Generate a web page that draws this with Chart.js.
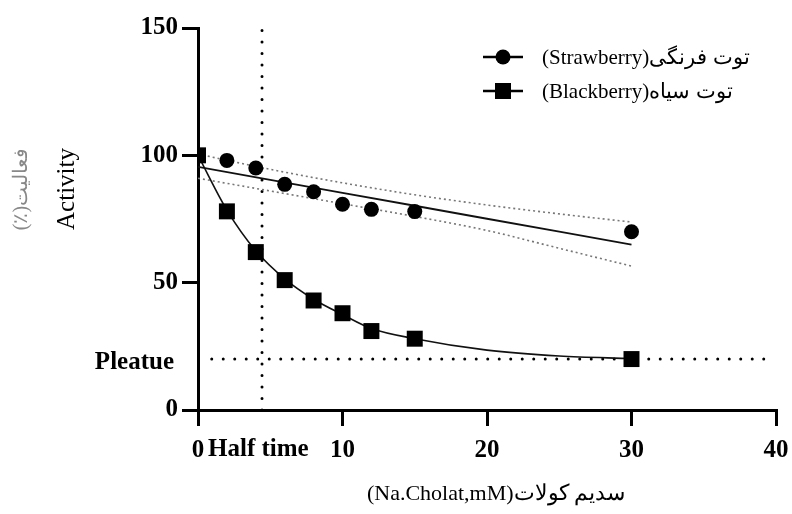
<!DOCTYPE html>
<html>
<head>
<meta charset="utf-8">
<script src="https://cdn.jsdelivr.net/npm/chart.js@4"></script>
<style>
  html, body { margin: 0; padding: 0; background: #fff; }
  #wrap { width: 792px; height: 514px; }
</style>
</head>
<body>
<div id="wrap"><canvas id="c" width="792" height="514"></canvas></div>
<script>
// Sodium cholate concentration (mM) and measured activity (%)
const concentrations = [0, 2, 4, 6, 8, 10, 12, 15, 30];
const strawberryActivity = [100, 98, 95, 88.6, 85.7, 80.8, 78.8, 77.9, 70];
const blackberryActivity = [100, 78, 62, 51, 43, 38, 31, 28, 20];

// Linear fit for strawberry with its confidence band
const strawberryFitX = [0, 5, 10, 15, 20, 25, 30];
const strawberryFit = [95.5, 90.4, 85.3, 80.2, 75.1, 70.0, 64.9];
const strawberryUpper = [100.5, 94.5, 89.2, 84.5, 80.5, 77.0, 73.8];
const strawberryLower = [91.0, 86.0, 81.0, 76.0, 70.5, 63.5, 56.5];

// Decay fit for blackberry
const blackberryFitX = [0, 2, 4, 6, 8, 10, 12, 15, 20, 25, 30];
const blackberryFit = [100, 78.5, 62.5, 51.5, 43.5, 37.5, 32.0, 28.0, 23.5, 21.2, 20.2];

// Reference markers
const halfTimeX = 4.43;
const plateauY = 20;
const plateauFrom = 0.95;
const plateauTo = 39.45;

// Axis ticks and texts
const xTicks = [0, 10, 20, 30, 40];
const yTicks = [0, 50, 100, 150];
const legendLabels = ['(Strawberry)توت فرنگی', '(Blackberry)توت سیاه'];
const xTitle = '(Na.Cholat,mM)سدیم کولات';
const yTitleEn = 'Activity';
const yTitleFa = '(٪)فعالیت';
const plateauLabel = 'Pleatue';
const halfTimeLabel = 'Half time';

const pts = (xs, ys) => xs.map((x, i) => ({ x, y: ys[i] }));
const serif = "'Liberation Serif', 'Times New Roman', serif";

const annotations = {
  id: 'annotations',
  afterDraw(chart) {
    const ctx = chart.ctx;
    const ys = chart.scales.y;
    ctx.save();
    ctx.fillStyle = '#000';
    // Plateau label
    ctx.font = 'bold 25px ' + serif;
    ctx.textAlign = 'right';
    ctx.textBaseline = 'middle';
    ctx.fillText(plateauLabel, 174, ys.getPixelForValue(plateauY) + 3);
    // Half time label
    ctx.textAlign = 'left';
    ctx.fillText(halfTimeLabel, 208, 450);
    // x title
    ctx.font = '22px ' + serif;
    ctx.textAlign = 'center';
    ctx.fillText(xTitle, 496, 494);
    // y titles
    ctx.translate(67, 189);
    ctx.rotate(-Math.PI / 2);
    ctx.font = '25px ' + serif;
    ctx.fillText(yTitleEn, 0, 0);
    ctx.fillStyle = '#888';
    ctx.font = '20px ' + serif;
    ctx.fillText(yTitleFa, 0, -45);
    ctx.restore();

    // Legend
    ctx.save();
    const rows = [
      { y: 57, style: 'circle' },
      { y: 91, style: 'rect' }
    ];
    rows.forEach((r, i) => {
      ctx.strokeStyle = '#000';
      ctx.lineWidth = 2.5;
      ctx.beginPath();
      ctx.moveTo(483, r.y);
      ctx.lineTo(523, r.y);
      ctx.stroke();
      ctx.fillStyle = '#000';
      if (r.style === 'circle') {
        ctx.beginPath();
        ctx.arc(503, r.y, 7.5, 0, Math.PI * 2);
        ctx.fill();
      } else {
        ctx.fillRect(495, r.y - 8, 16, 16);
      }
      ctx.font = '21px ' + serif;
      ctx.textAlign = 'left';
      ctx.textBaseline = 'middle';
      ctx.fillText(legendLabels[i], 542, r.y + 1);
    });
    ctx.restore();
  }
};

new Chart(document.getElementById('c'), {
  type: 'scatter',
  data: {
    datasets: [
      {
        label: 'blackberry',
        data: pts(concentrations, blackberryActivity),
        showLine: false,
        pointStyle: 'rect',
        pointRadius: 11.3,
        backgroundColor: '#000',
        borderColor: '#000',
        borderWidth: 0,
        order: 1
      },
      {
        label: 'strawberry',
        data: pts(concentrations, strawberryActivity),
        showLine: false,
        pointStyle: 'circle',
        pointRadius: 7.5,
        backgroundColor: '#000',
        borderColor: '#000',
        borderWidth: 0,
        order: 2
      },
      {
        label: 'blackberry fit',
        data: pts(blackberryFitX, blackberryFit),
        showLine: true,
        pointRadius: 0,
        borderColor: '#111',
        borderWidth: 1.6,
        cubicInterpolationMode: 'monotone',
        order: 3
      },
      {
        label: 'strawberry fit',
        data: pts(strawberryFitX, strawberryFit),
        showLine: true,
        pointRadius: 0,
        borderColor: '#111',
        borderWidth: 1.8,
        order: 3
      },
      {
        label: 'upper band',
        data: pts(strawberryFitX, strawberryUpper),
        showLine: true,
        pointRadius: 0,
        borderColor: '#777',
        borderWidth: 1.6,
        borderDash: [2, 3],
        cubicInterpolationMode: 'monotone',
        order: 4
      },
      {
        label: 'lower band',
        data: pts(strawberryFitX, strawberryLower),
        showLine: true,
        pointRadius: 0,
        borderColor: '#777',
        borderWidth: 1.6,
        borderDash: [2, 3],
        cubicInterpolationMode: 'monotone',
        order: 4
      },
      {
        label: 'half time',
        data: [{ x: halfTimeX, y: 0 }, { x: halfTimeX, y: 150 }],
        showLine: true,
        pointRadius: 0,
        borderColor: '#000',
        borderWidth: 3,
        borderCapStyle: 'round',
        borderDash: [0, 11.5],
        order: 5
      },
      {
        label: 'plateau',
        data: [{ x: plateauFrom, y: plateauY }, { x: plateauTo, y: plateauY }],
        showLine: true,
        pointRadius: 0,
        borderColor: '#000',
        borderWidth: 3,
        borderCapStyle: 'round',
        borderDash: [0, 11.5],
        order: 5
      }
    ]
  },
  options: {
    responsive: false,
    animation: false,
    layout: { padding: { left: 0, right: 16, top: 28, bottom: 0 } },
    plugins: { legend: { display: false }, tooltip: { enabled: false } },
    scales: {
      x: {
        type: 'linear',
        min: 0, max: 40,
        afterBuildTicks: s => { s.ticks = xTicks.map(v => ({ value: v })); },
        afterFit: s => { s.height = 104; s.paddingLeft = 0; s.paddingRight = 0; },
        grid: { drawOnChartArea: false, color: '#000', lineWidth: 3, tickLength: 16 },
        border: { color: '#000', width: 3 },
        ticks: { color: '#000', font: { family: serif, size: 25, weight: 'bold' }, padding: 10, maxRotation: 0 }
      },
      y: {
        type: 'linear',
        min: 0, max: 150,
        afterBuildTicks: s => { s.ticks = yTicks.map(v => ({ value: v })); },
        afterFit: s => { s.width = 198; s.paddingTop = 0; s.paddingBottom = 0; },
        grid: { drawOnChartArea: false, color: '#000', lineWidth: 3, tickLength: 16 },
        border: { color: '#000', width: 3 },
        ticks: { color: '#000', font: { family: serif, size: 25, weight: 'bold' }, padding: 4 }
      }
    }
  },
  plugins: [annotations]
});
</script>
</body>
</html>
